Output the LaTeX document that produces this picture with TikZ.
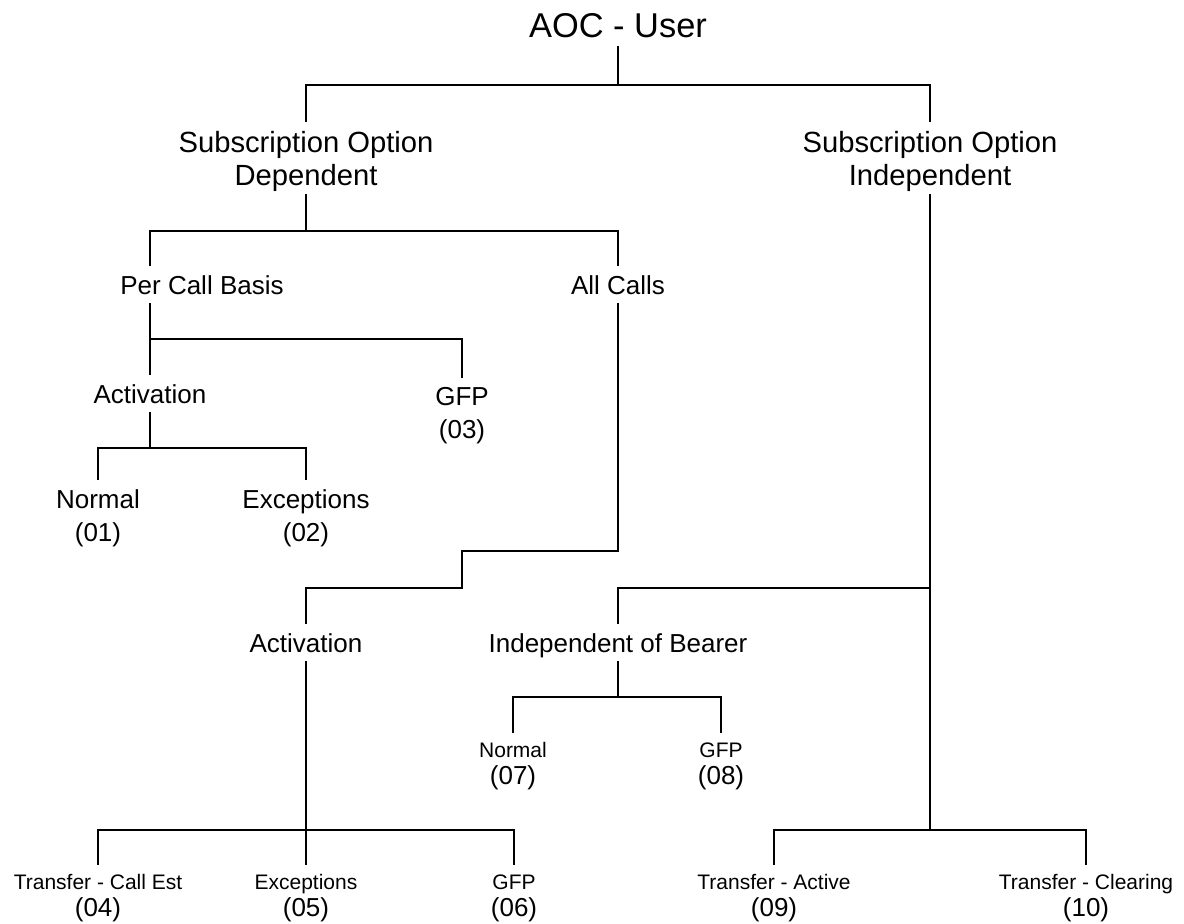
\documentclass[tikz,border=0pt]{standalone}
\usepackage{fontspec}
\setmainfont{Liberation Sans}
\usetikzlibrary{calc,positioning}

\begin{document}
\begin{tikzpicture}[x=0.5pt,y=-0.5pt,line width=0.9pt,
  every node/.style={inner sep=0pt,outer sep=4.5pt,align=center,anchor=base,text depth=0pt},
  root/.style={font=\fontsize{17.2}{20}\selectfont},
  option/.style={font=\fontsize{14.6}{16.5}\selectfont},
  basis/.style={font=\fontsize{13}{16.5}\selectfont},
  leaf/.style={font=\fontsize{13}{13.5}\selectfont}]
  \useasboundingbox (0,0) rectangle (1184,923);
  \node[root] (AOC_User) at (618,37) {AOC - User};
  \node[option] (Sub_Dep) at (306,185) {Subscription Option\\Dependent};
  \node[option] (Sub_Indep) at (930,185) {Subscription Option\\Independent};
  \node[basis] (Per_Call) at (202,294) {Per Call Basis};
  \node[basis] (All_Calls) at (618,294) {All Calls};
  \node[basis] (Act_PC) at (150,403) {Activation};
  \node[basis] (GFP_03) at (462,438) {GFP\\(03)};
  \node[basis] (Normal_01) at (98,541) {Normal\\(01)};
  \node[basis] (Exceptions_02) at (306,541) {Exceptions\\(02)};
  \node[basis] (Act_AC) at (306,652) {Activation};
  \node[basis] (Indep_Bearer) at (618,652) {Independent of Bearer};
  \node[leaf] (Normal_07) at (513,784) {{\fontsize{10.5}{13.5}\selectfont Normal}\\(07)};
  \node[leaf] (GFP_08) at (721,784) {{\fontsize{10.5}{13.5}\selectfont GFP}\\(08)};
  \node[leaf] (Transfer_CallEst) at (98,916) {{\fontsize{10.5}{13.5}\selectfont Transfer - Call Est}\\(04)};
  \node[leaf] (Exceptions_05) at (306,916) {{\fontsize{10.5}{13.5}\selectfont Exceptions}\\(05)};
  \node[leaf] (GFP_06) at (514,916) {{\fontsize{10.5}{13.5}\selectfont GFP}\\(06)};
  \node[leaf] (Transfer_Active) at (774,916) {{\fontsize{10.5}{13.5}\selectfont Transfer - Active}\\(09)};
  \node[leaf] (Transfer_Clearing) at (1086,916) {{\fontsize{10.5}{13.5}\selectfont Transfer - Clearing}\\(10)};
  \coordinate (ac_step) at (462,588);
  %
  \draw (AOC_User.south) -- (AOC_User.south |- 0,85) -| (Sub_Dep.north);
  \draw (AOC_User.south |- 0,85) -| (Sub_Indep.north);
  \draw (Sub_Dep.south) -- (Sub_Dep.south |- 0,231) -| (Per_Call.north -| Act_PC);
  \draw (Sub_Dep.south |- 0,231) -| (All_Calls.north);
  \draw (Per_Call.south -| Act_PC) -- (Act_PC.north);
  \draw (Act_PC.north |- 0,339) -| (GFP_03.north);
  \draw (Act_PC.south) -- (Act_PC.south |- 0,448) -| (Normal_01.north);
  \draw (Act_PC.south |- 0,448) -| (Exceptions_02.north);
  \draw (All_Calls.south) -- (All_Calls.south |- 0,551) -| (ac_step) -| (Act_AC.north);
  \draw (Act_AC.south) -- (Act_AC.south |- 0,830) -| (Transfer_CallEst.north);
  \draw (Act_AC.south |- 0,830) -- (Exceptions_05.north);
  \draw (Act_AC.south |- 0,830) -| (GFP_06.north);
  \draw (Sub_Indep.south) -- (Sub_Indep.south |- 0,830) -| (Transfer_Active.north);
  \draw (Sub_Indep.south |- 0,830) -| (Transfer_Clearing.north);
  \draw (Sub_Indep.south |- 0,588) -| (Indep_Bearer.north);
  \draw (Indep_Bearer.south) -- (Indep_Bearer.south |- 0,697) -| (Normal_07.north);
  \draw (Indep_Bearer.south |- 0,697) -| (GFP_08.north);
\end{tikzpicture}
\end{document}
